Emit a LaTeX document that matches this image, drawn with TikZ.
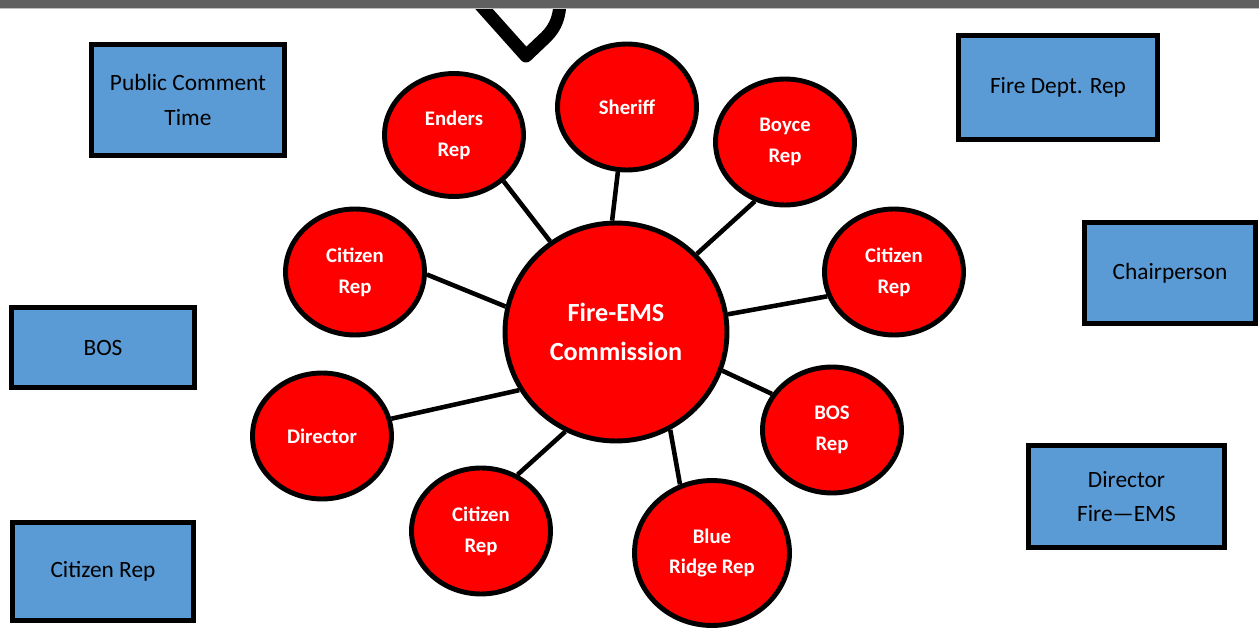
\documentclass[tikz,border=0pt]{standalone}
\usepackage{fontspec}
\setmainfont{Carlito}
\usetikzlibrary{shapes.geometric}
\definecolor{boxblue}{HTML}{5B9BD5}
\definecolor{bargray}{HTML}{606060}
\begin{document}
\begin{tikzpicture}[x=0.02cm,y=-0.02cm]
        \useasboundingbox (0,0) rectangle (1259,635);
        % cut-off shape and bar at the top
        \draw[line width=7.4pt,line join=round] (476,0) -- (526,56) -- (546,37) .. controls (556,27) and (560,16) .. (560,0);
        \fill[bargray] (0,0) rectangle (1259,8);
        \draw[black!25,line width=0.6pt] (0,8.6) -- (1259,8.6);
        \begin{scope}[every node/.style={rectangle,draw=black,line width=2.8pt,fill=boxblue,align=center,inner sep=0pt,font=\fontsize{13.3}{19.5}\selectfont}]
          \node[minimum width=3.86cm,minimum height=2.22cm] (public)   at (188,100)   {Public Comment\\Time};
          \node[minimum width=3.98cm,minimum height=2.08cm] (firedept) at (1058,87.5)  {Fire Dept. Rep};
          \node[minimum width=3.42cm,minimum height=2.02cm] (chair)    at (1170,273)   {Chairperson};
          \node[minimum width=3.66cm,minimum height=1.60cm] (bos)      at (103,347.5)  {BOS};
          \node[minimum width=3.92cm,minimum height=2.04cm] (dirbox)   at (1126.5,496.5) {Director\\Fire—EMS};
          \node[minimum width=3.62cm,minimum height=1.96cm] (citbox)   at (103,571.5)  {Citizen Rep};
        \end{scope}
        \begin{scope}[every node/.style={ellipse,draw=black,line width=2.8pt,fill=red,text=white,align=center,inner sep=0pt,minimum width=2.78cm,minimum height=2.52cm,font=\fontsize{11.8}{17.6}\selectfont\bfseries}]
          \node[minimum width=4.44cm,minimum height=4.36cm,font=\fontsize{14.9}{21.8}\selectfont\bfseries] (fire) at (616,332) {Fire-EMS\\Commission};
          \node[minimum height=2.46cm] (enders)   at (454,135) {Enders\\Rep};
          \node (sheriff)  at (627,107) {Sheriff};
          \node (boyce)    at (785,142) {Boyce\\Rep};
          \node (citright) at (894,272) {Citizen\\Rep};
          \node (bosrep)   at (832,430) {BOS\\Rep};
          \node[minimum width=3.10cm,minimum height=2.90cm] (ridge) at (712,553) {Blue\\Ridge Rep};
          \node (citlow)   at (481,531) {Citizen\\Rep};
          \node (director) at (322,436) {Director};
          \node (citleft)  at (355,272) {Citizen\\Rep};
        \end{scope}
        \begin{scope}[every edge/.style={draw=black,line width=2.6pt}]
          \path (enders.-43)   edge (fire.126);
          \path (sheriff.262)  edge (fire.92);
          \path (boyce.243)    edge (fire.44);
          \path (citright.200) edge (fire.9);
          \path (bosrep.149)   edge (fire.-20);
          \path (ridge.115)    edge (fire.-61);
          \path (citlow.57)    edge (fire.243);
          \path (director.14)  edge (fire.211);
          \path (citleft.-2)   edge (fire.167);
        \end{scope}
      \end{tikzpicture}
\end{document}
